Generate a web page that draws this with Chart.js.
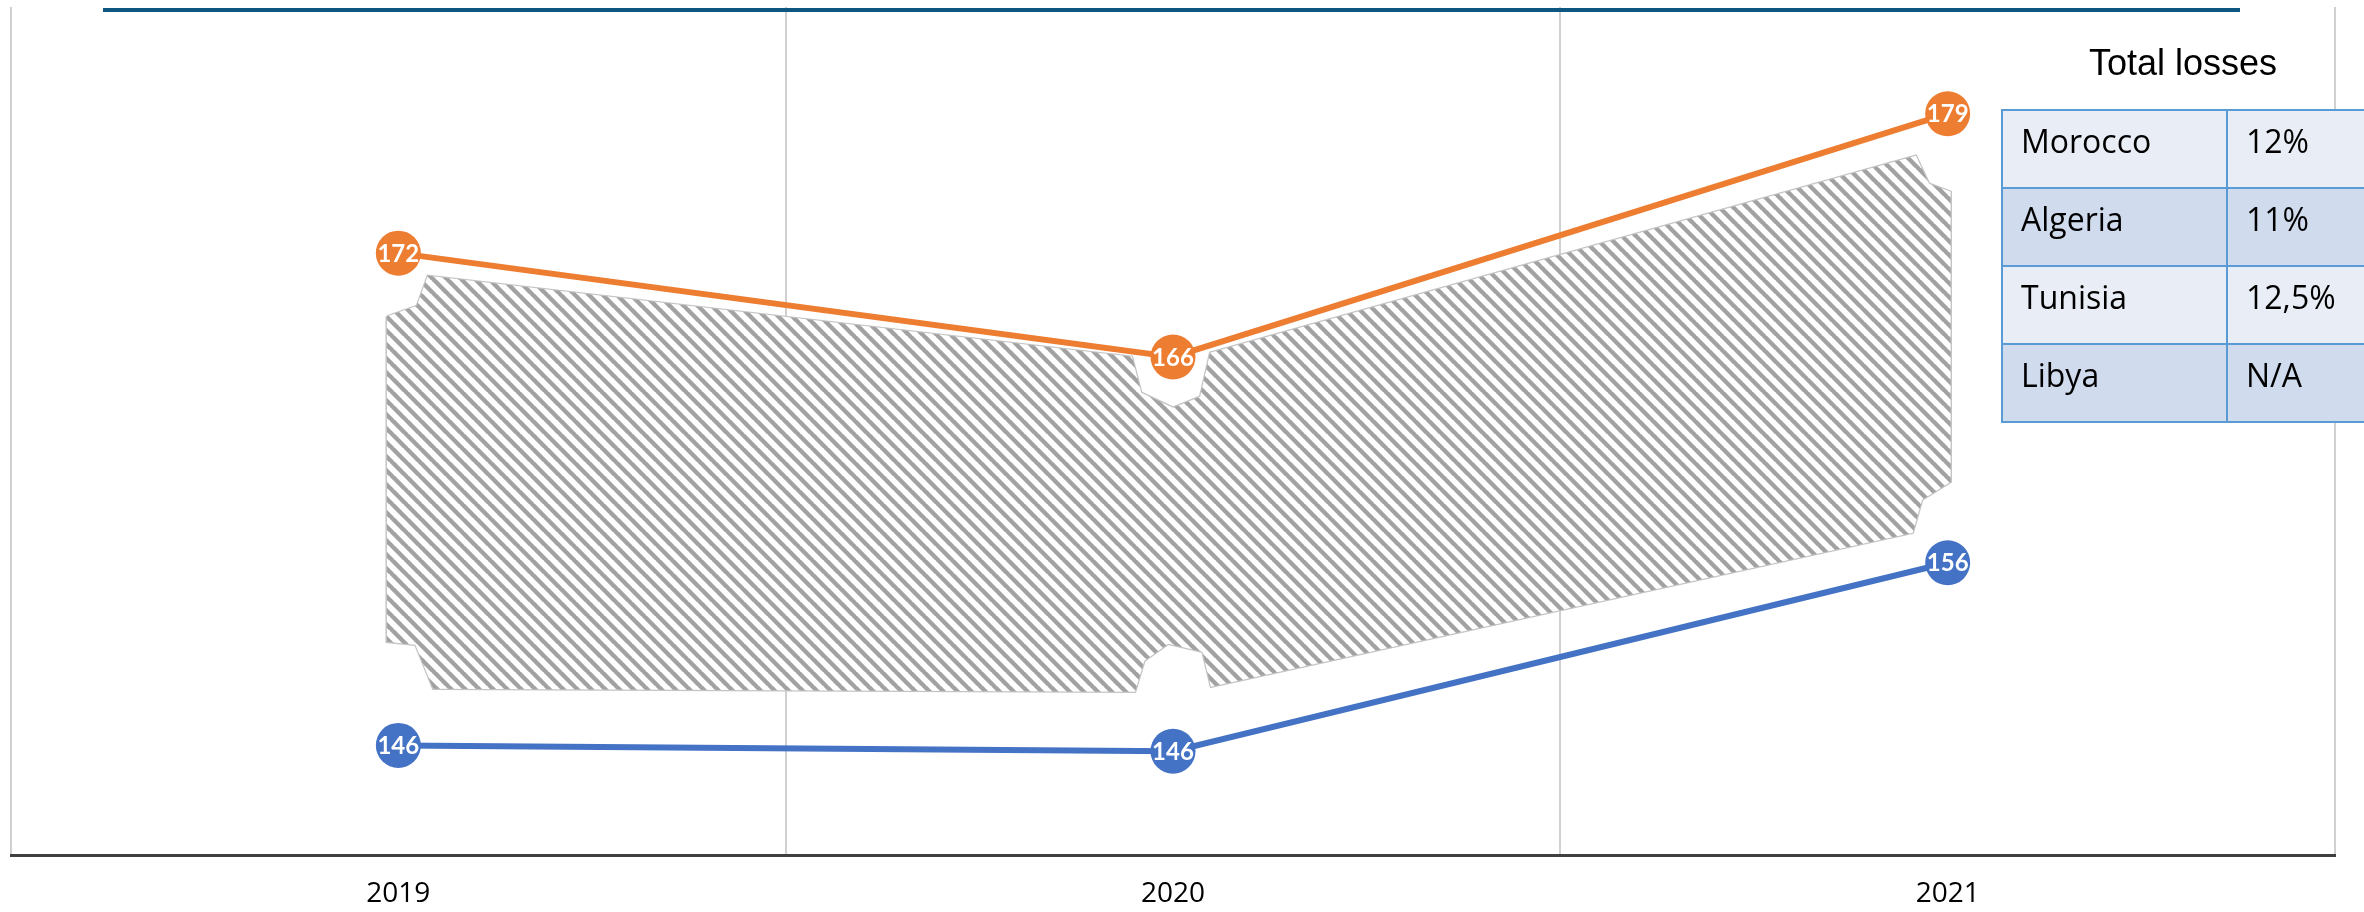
<!DOCTYPE html>
<html>
<head>
<meta charset="utf-8">
<title>Total losses</title>
<script src="https://cdn.jsdelivr.net/npm/chart.js@4.4.1/dist/chart.umd.min.js"></script>
<style>
  html, body { margin: 0; padding: 0; background: #fff; overflow: hidden; }
  #wrap { position: relative; width: 2364px; height: 912px; }
  #chart { position: absolute; left: 0; top: 0; }
  #topRule { position: absolute; left: 103px; top: 8px; width: 2137px; height: 4px; background: #0f5582; }
  #lossTitle {
    position: absolute; left: 2089px; top: 45px; white-space: nowrap;
    font: 36px/36px "Liberation Sans", Arial, sans-serif; color: #000;
  }
  #lossTable {
    position: absolute; left: 2001px; top: 109px;
    display: grid; grid-template-columns: 225px 225px; grid-auto-rows: 78px;
    border-left: 2px solid #5b9bd5; border-top: 2px solid #5b9bd5;
    font: 32px/32px "Open Sans", Lato, sans-serif; color: #000;
  }
  #lossTable div {
    box-sizing: border-box; padding: 14px 0 0 18px;
    border-right: 2px solid #5b9bd5; border-bottom: 2px solid #5b9bd5;
  }
  #lossTable .odd { background: #e9edf6; }
  #lossTable .even { background: #d0dbee; }
</style>
</head>
<body>
<div id="wrap">
  <canvas id="chart" width="2364" height="912"></canvas>
  <div id="topRule"></div>
  <div id="lossTitle">Total losses</div>
  <div id="lossTable"></div>
</div>

<script>
/* ------------------------------------------------------------
   DATI
------------------------------------------------------------ */

const years = ["2019", "2020", "2021"];

// serie superiore (arancione) e inferiore (blu)
const upperValues = [171.8, 166.4, 179.05];
const lowerValues = [146.2, 145.9, 155.7];

// banda tratteggiata tra le due linee (x = posizione categoria, y = valore)
const bandTopX = [-0.015, 0.024, 0.038, 0.947, 0.959, 1.0, 1.035, 1.048, 1.959, 1.976, 2.004];
const bandTopY = [168.5, 169.06, 170.62, 166.41, 164.54, 163.76, 164.33, 166.62, 176.86, 175.41, 174.99];
const bandBottomX = [-0.015, 0.022, 0.045, 0.951, 0.963, 0.994, 1.038, 1.049, 1.955, 1.967, 2.004];
const bandBottomY = [151.59, 151.44, 149.15, 148.99, 150.6, 151.49, 151.07, 149.25, 157.26, 158.98, 159.91];

// tabella "Total losses"
const countries = ["Morocco", "Algeria", "Tunisia", "Libya"];
const losses = ["12%", "11%", "12,5%", "N/A"];


/* ------------------------------------------------------------
   TABELLA
------------------------------------------------------------ */

function buildTable() {
  const box = document.getElementById("lossTable");
  countries.forEach((c, i) => {
    const cls = i % 2 === 0 ? "odd" : "even";
    box.insertAdjacentHTML("beforeend",
      `<div class="${cls}">${c}</div><div class="${cls}">${losses[i]}</div>`);
  });
}


/* ------------------------------------------------------------
   GRAFICO
------------------------------------------------------------ */

const ORANGE = "#ed7d31";
const BLUE = "#4472c4";

function makeHatch() {
  const s = 14;
  const c = document.createElement("canvas");
  c.width = s;
  c.height = s;
  const g = c.getContext("2d");
  g.fillStyle = "#fff";
  g.fillRect(0, 0, s, s);
  g.strokeStyle = "#a2a2a2";
  g.lineWidth = 4.4;
  [-s, 0, s].forEach(o => {
    g.beginPath();
    g.moveTo(o - 1, -1);
    g.lineTo(o + s + 1, s + 1);
    g.stroke();
  });
  return g.createPattern(c, "repeat");
}

const toPoints = (xs, ys) => xs.map((x, i) => ({ x, y: ys[i] }));

// etichette bianche dentro i marker
const valueLabels = {
  id: "valueLabels",
  afterDatasetsDraw(chart) {
    const ctx = chart.ctx;
    ctx.save();
    ctx.font = "bold 24px Lato";
    ctx.fillStyle = "#fff";
    ctx.textAlign = "center";
    ctx.textBaseline = "middle";
    [0, 1].forEach(d => {
      chart.getDatasetMeta(d).data.forEach((pt, j) => {
        ctx.fillText(String(Math.round(chart.data.datasets[d].data[j])), pt.x, pt.y + 1);
      });
    });
    ctx.restore();
  }
};

function drawChart() {
  const outline = toPoints(
    [...bandTopX, ...bandBottomX.slice().reverse(), bandTopX[0]],
    [...bandTopY, ...bandBottomY.slice().reverse(), bandTopY[0]]
  );

  const lineStyle = color => ({
    borderColor: color,
    backgroundColor: color,
    borderWidth: 6,
    pointRadius: 22.5,
    pointHoverRadius: 22.5,
    pointBorderWidth: 0,
    pointBackgroundColor: color,
    tension: 0,
    fill: false
  });

  new Chart(document.getElementById("chart"), {
    type: "line",
    data: {
      labels: years,
      datasets: [
        { label: "upper", data: upperValues, ...lineStyle(ORANGE) },
        { label: "lower", data: lowerValues, ...lineStyle(BLUE) },
        {
          label: "band top", xAxisID: "x2", data: toPoints(bandTopX, bandTopY),
          borderColor: "rgba(0,0,0,0)", borderWidth: 1, pointRadius: 0, fill: false
        },
        {
          label: "band bottom", xAxisID: "x2", data: toPoints(bandBottomX, bandBottomY),
          borderColor: "rgba(0,0,0,0)", borderWidth: 1, pointRadius: 0,
          backgroundColor: makeHatch(), fill: { target: 2 }
        },
        {
          label: "band outline", xAxisID: "x2", data: outline,
          borderColor: "#c4c4c4", borderWidth: 2.5, pointRadius: 0, fill: false
        }
      ]
    },
    options: {
      responsive: false,
      animation: false,
      events: [],
      layout: { autoPadding: false, padding: { left: 11, right: 29, top: 7, bottom: 0 } },
      plugins: {
        legend: { display: false },
        tooltip: { enabled: false },
        filler: { propagate: false }
      },
      scales: {
        x: {
          type: "category",
          offset: true,
          afterFit: scale => { scale.height = 57; },
          grid: { offset: true, color: "#d0d0d0", lineWidth: 2, drawTicks: false },
          border: { display: true, color: "#404040", width: 3 },
          ticks: { color: "#000", padding: 22, font: { family: "'Open Sans'", size: 28 } }
        },
        x2: { type: "linear", min: -0.5, max: 2.5, display: false },
        y: { min: 140.5, max: 184.6, display: false }
      }
    },
    plugins: [valueLabels]
  });
}

buildTable();
drawChart();
</script>
</body>
</html>
